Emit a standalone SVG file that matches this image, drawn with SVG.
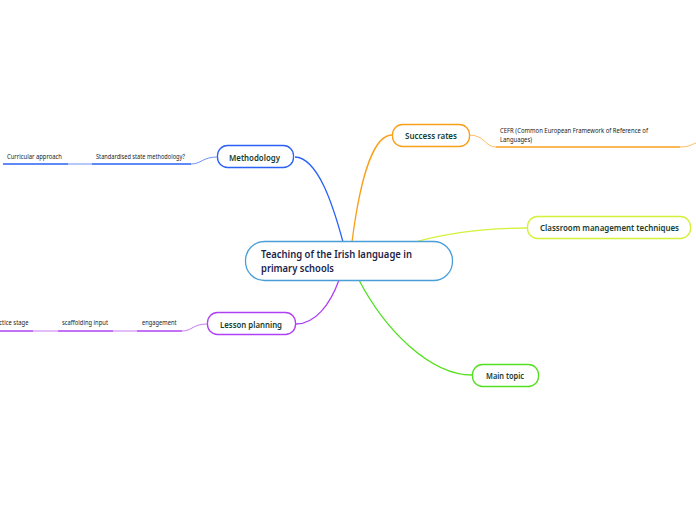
<svg xmlns="http://www.w3.org/2000/svg" width="696" height="520" viewBox="0 0 696 520">
<style>
.node rect{fill:#fff;stroke-width:1.3}
.lbl{font-family:"Noto Sans","Open Sans",sans-serif;font-size:9.3px;fill:#17402f;font-weight:600}
.sub{font-family:"Noto Sans","Open Sans",sans-serif;font-size:6.5px;fill:#222}
.c{fill:none;stroke-width:1.3}
.t{fill:none;stroke-width:0.7}
.u{fill:none;stroke-width:1.6}
</style>
<rect width="696" height="520" fill="#fff"/>
<g id="connectors">
<path class="c" d="M343,242 C333,205 318,158 295,157" stroke="#2a62f5"/>
<path class="c" d="M352,242 C358,195 370,135 392,135" stroke="#fa9f1a"/>
<path class="c" d="M415,242 C450,232 490,228 528,228" stroke="#d2f23a"/>
<path class="c" d="M359,280 C385,330 430,375 472,375" stroke="#52e020"/>
<path class="c" d="M339,280 C330,305 315,324 296,324" stroke="#b040f5"/>
<path class="t" d="M469,135 C485,135 485,147 496,147" stroke="#fa9f1a"/>
<path class="u" d="M496,147 L680,147" stroke="#fa9f1a"/>
<path class="t" d="M680,147 C690,147 692,144 696,143" stroke="#fa9f1a"/>
<path class="t" d="M217,157 C203,157 201,164 191,164" stroke="#2a62f5"/>
<path class="u" d="M92,164 L191,164" stroke="#2a62f5"/>
<path class="t" d="M68,164 L92,164" stroke="#2a62f5"/>
<path class="u" d="M3,164 L68,164" stroke="#2a62f5"/>
<path class="t" d="M207,324 C193,324 192,331 182,331" stroke="#b040f5"/>
<path class="u" d="M137,331 L182,331" stroke="#b040f5"/>
<path class="t" d="M113,331 L137,331" stroke="#b040f5"/>
<path class="u" d="M58,331 L113,331" stroke="#b040f5"/>
<path class="t" d="M33,331 L58,331" stroke="#b040f5"/>
<path class="u" d="M0,331 L33,331" stroke="#b040f5"/>
</g>
<g id="central" class="node">
<rect x="245.5" y="241.5" width="207" height="39" rx="19" stroke="#4a9ed8"/>
<text font-family="'Noto Sans','Open Sans',sans-serif" font-size="10.8px" font-weight="600" fill="#1c2448"><tspan x="261" y="258" textLength="151" lengthAdjust="spacingAndGlyphs">Teaching of the Irish language in</tspan><tspan x="261" y="272" textLength="73" lengthAdjust="spacingAndGlyphs">primary schools</tspan></text>
</g>
<g id="methodology" class="node">
<rect x="217.5" y="145.5" width="76" height="22" rx="10" stroke="#2a62f5"/>
<text class="lbl" x="229" y="160.5" textLength="51" lengthAdjust="spacingAndGlyphs">Methodology</text>
</g>
<g id="success" class="node">
<rect x="392.5" y="124.5" width="77" height="22" rx="10" stroke="#fa9f1a"/>
<text class="lbl" x="405" y="138.5" textLength="52" lengthAdjust="spacingAndGlyphs">Success rates</text>
</g>
<g id="classroom" class="node">
<rect x="527.5" y="216.5" width="163" height="22" rx="10" stroke="#d2f23a"/>
<text class="lbl" x="540" y="231" textLength="139" lengthAdjust="spacingAndGlyphs">Classroom management techniques</text>
</g>
<g id="maintopic" class="node">
<rect x="472.5" y="364.5" width="66" height="22" rx="10" stroke="#52e020"/>
<text class="lbl" x="486" y="379" textLength="38" lengthAdjust="spacingAndGlyphs">Main topic</text>
</g>
<g id="lesson" class="node">
<rect x="207.5" y="312.5" width="88" height="22" rx="10" stroke="#b040f5"/>
<text class="lbl" x="220" y="327.5" textLength="62" lengthAdjust="spacingAndGlyphs">Lesson planning</text>
</g>
<g id="cefr">
<text class="sub"><tspan x="500" y="133" textLength="148" lengthAdjust="spacingAndGlyphs">CEFR (Common European Framework of Reference of</tspan><tspan x="500" y="141.5" textLength="32" lengthAdjust="spacingAndGlyphs">Languages)</tspan></text>
</g>
<g id="standardised"><text class="sub" x="96" y="159" textLength="89" lengthAdjust="spacingAndGlyphs">Standardised state methodology?</text></g>
<g id="curricular"><text class="sub" x="7" y="159" textLength="55" lengthAdjust="spacingAndGlyphs">Curricular approach</text></g>
<g id="engagement"><text class="sub" x="142" y="325" textLength="34.5" lengthAdjust="spacingAndGlyphs">engagement</text></g>
<g id="scaffolding"><text class="sub" x="62" y="325" textLength="46" lengthAdjust="spacingAndGlyphs">scaffolding input</text></g>
<g id="practice"><text class="sub" x="-10" y="325" textLength="38.5" lengthAdjust="spacingAndGlyphs">practice stage</text></g>
</svg>
